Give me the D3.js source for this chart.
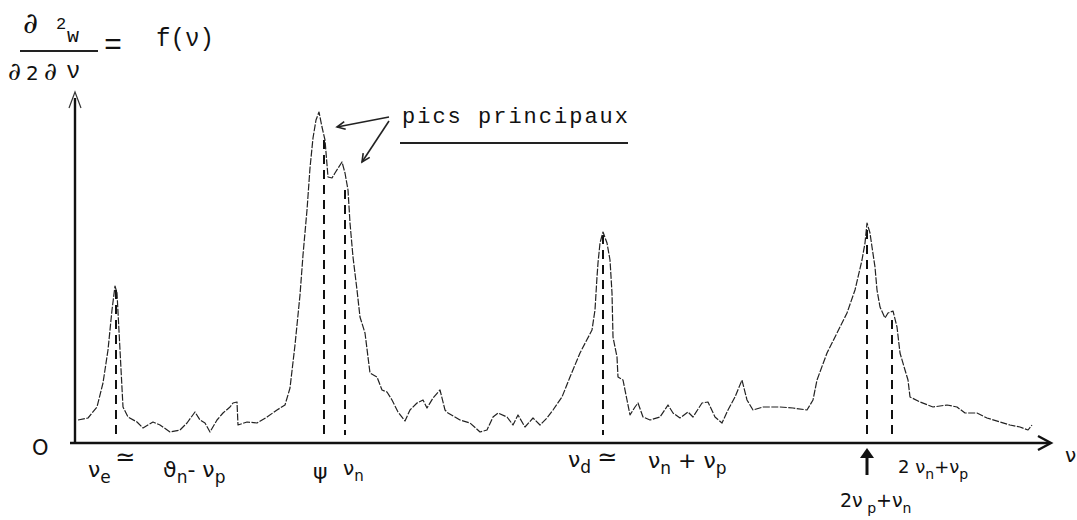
<!DOCTYPE html>
<html>
<head>
<meta charset="utf-8">
<script src="https://cdn.jsdelivr.net/npm/d3@7"></script>
<style>
  html, body { margin: 0; padding: 0; background: #fff; }
  svg { display: block; }
  text { white-space: pre; }
</style>
</head>
<body>
<svg id="chart" width="1077" height="520"></svg>
<script>
// ---- data (frequency channel ν, intensity ∂²w/∂z∂ν, arbitrary units) ----
const nu = [3,13,22,28,33,37,40,42,45,48,53,62,68,78,85,95,105,112,120,125,130,135,142,148,155,158,162,163,172,182,192,202,210,
  215,220,225,228,232,235,238,241,244,247,250,253,257,260,267,270,273,275,278,282,285,290,293,295,302,307,312,317,323,330,
  335,342,348,352,358,365,370,373,385,395,405,412,418,423,432,438,443,450,458,465,472,478,487,495,505,517,520,522,523,525,
  528,532,535,537,538,542,543,548,552,555,560,563,568,575,585,593,598,605,613,618,627,633,640,647,653,660,667,672,678,688,
  698,705,718,732,738,742,752,762,772,780,787,790,792,795,797,800,802,805,810,813,818,822,825,830,833,835,845,858,872,882,
  890,902,912,925,935,945,953,957];
const intensity = [23,25,36,60,93,133,157,150,93,36,26,21,15,21,18,11,13,20,31,23,20,11,23,30,36,40,41,18,21,20,26,33,38,
  55,98,148,188,233,275,305,323,331,316,303,266,265,270,281,270,253,220,186,153,126,110,86,70,66,53,51,43,31,22,
  33,40,43,35,45,53,33,30,23,20,11,13,26,30,26,18,28,16,25,18,25,33,46,66,90,113,133,166,180,200,
  211,200,183,150,106,86,66,63,43,28,36,40,26,23,26,38,30,25,31,26,40,41,26,20,33,46,63,43,33,36,
  36,36,35,33,43,63,90,110,130,153,183,200,220,210,196,176,153,136,125,130,132,116,90,73,63,46,41,36,38,36,
  30,30,25,21,18,16,13,18];

// dashed reference lines under the peaks
const markerNu  = [41, 249, 270, 528, 792, 817];
const markerTop = [153, 303, 253, 208, 213, 123];

// tick labels under the axis
const tickLabels = [
  { nu: 13,  base: 477, size: 22, parts: [{t:"ν"},{t:"e",sub:true}] },
  { nu: 88,  base: 477, size: 22, parts: [{t:"ϑ"},{t:"n",sub:true},{t:"-"},{t:" ν"},{t:"p",sub:true}] },
  { nu: 238, base: 479, size: 22, parts: [{t:"ψ"}] },
  { nu: 268, base: 475, size: 20, parts: [{t:"ν"},{t:"n",sub:true}] },
  { nu: 493, base: 467, size: 22, parts: [{t:"ν"},{t:"d",sub:true}] },
  { nu: 573, base: 468, size: 22, parts: [{t:"ν"},{t:"n",sub:true},{t:" + "},{t:"ν"},{t:"p",sub:true}] },
  { nu: 823, base: 473, size: 18, parts: [{t:"2 "},{t:"ν"},{t:"n",sub:true},{t:"+"},{t:"ν"},{t:"p",sub:true}] },
  { nu: 765, base: 507, size: 19, parts: [{t:"2"},{t:"ν"},{t:" p",sub:true},{t:"+"},{t:"ν"},{t:"n",sub:true}] }
];
const approxMarkNu = [50, 532];          // "≃" marks under ν_e and ν_d
const arrowMarkNu = 792;                 // up arrow under 2νp+νn
const calloutText = "pics principaux";
const calloutTips = [{nu: 262, v: 316}, {nu: 287, v: 281}];

// ---- scales ----
const svg = d3.select("#chart");
const x = d3.scaleLinear().domain([0, 975]).range([75, 1050]);
const y = d3.scaleLinear().domain([0, 345]).range([443, 98]);
const ink = "#111";

// ---- axes ----
svg.append("line").attr("x1", x(-5)).attr("x2", x(975)).attr("y1", y(0)).attr("y2", y(0))
  .attr("stroke", ink).attr("stroke-width", 2.4);
svg.append("path").attr("d", `M${x(963)},${y(0)-7} L${x(976)},${y(0)} L${x(963)},${y(0)+7}`)
  .attr("fill", "none").attr("stroke", ink).attr("stroke-width", 2.4);
svg.append("line").attr("x1", x(0)).attr("x2", x(0)).attr("y1", y(0)).attr("y2", y(345))
  .attr("stroke", ink).attr("stroke-width", 2.4);
svg.append("path").attr("d", `M${x(0)-6},${y(335)} L${x(0)},${y(351)} L${x(0)+6},${y(335)}`)
  .attr("fill", "none").attr("stroke", "#333").attr("stroke-width", 1.2);
svg.append("text").attr("x", x(0) - 43).attr("y", y(0) + 12)
  .attr("font-family", "DejaVu Sans").attr("font-size", 21).attr("fill", ink).text("O");

// ---- dashed markers ----
svg.selectAll("line.marker").data(markerNu).join("line").attr("class", "marker")
  .attr("x1", d => x(d)).attr("x2", d => x(d))
  .attr("y1", (d, i) => y(markerTop[i])).attr("y2", y(8))
  .attr("stroke", ink).attr("stroke-width", 2).attr("stroke-dasharray", "9,6");

// ---- curve ----
const pts = nu.map((d, i) => [d, intensity[i]]);
svg.append("path").datum(pts)
  .attr("d", d3.line().x(d => x(d[0])).y(d => y(d[1])))
  .attr("fill", "none").attr("stroke", "#222").attr("stroke-width", 1.2)
  .attr("stroke-dasharray", "7,1.5").attr("stroke-linejoin", "round");

// ---- tick labels ----
tickLabels.forEach(lab => {
  const t = svg.append("text").attr("x", x(lab.nu)).attr("y", lab.base)
    .attr("font-family", "DejaVu Sans").attr("fill", ink).attr("font-size", lab.size);
  let cur = 0;
  lab.parts.forEach(p => {
    const target = p.sub ? 6 : 0;
    t.append("tspan").attr("dy", target - cur)
      .attr("font-size", p.sub ? Math.round(lab.size * 0.75) : lab.size).text(p.t);
    cur = target;
  });
});
approxMarkNu.forEach(n => {
  svg.append("text").attr("x", x(n)).attr("y", y(0) + 22).attr("text-anchor", "middle")
    .attr("font-family", "DejaVu Sans").attr("font-size", 24).attr("fill", ink).text("≃");
});
// up arrow
svg.append("line").attr("x1", x(arrowMarkNu)).attr("x2", x(arrowMarkNu))
  .attr("y1", y(0) + 32).attr("y2", y(0) + 12).attr("stroke", ink).attr("stroke-width", 3);
svg.append("path")
  .attr("d", `M${x(arrowMarkNu)-7},${y(0)+15} L${x(arrowMarkNu)},${y(0)+5} L${x(arrowMarkNu)+7},${y(0)+15} Z`)
  .attr("fill", ink);
// far right axis name (cut by the page edge)
svg.append("text").attr("x", x(990)).attr("y", y(0) + 19)
  .attr("font-family", "DejaVu Sans").attr("font-size", 20).attr("fill", ink).text("ν");

// ---- formula title ----
const mono = "Liberation Mono";
const title = svg.append("g").attr("fill", ink);
title.append("text").attr("x", 23).attr("y", 33).attr("font-family", "DejaVu Serif").attr("font-style", "italic")
  .attr("font-size", 29).text("∂");
title.append("text").attr("x", 56).attr("y", 29).attr("font-family", mono).attr("font-size", 17).text("2");
title.append("text").attr("x", 67).attr("y", 42).attr("font-family", mono).attr("font-size", 20).text("w");
title.append("line").attr("x1", 20).attr("x2", 98).attr("y1", 51).attr("y2", 51)
  .attr("stroke", "#222").attr("stroke-width", 2);
title.append("text").attr("x", 8).attr("y", 80).attr("font-family", "DejaVu Serif").attr("font-style", "italic")
  .attr("font-size", 25).text("∂");
title.append("text").attr("x", 26).attr("y", 80).attr("font-family", "DejaVu Sans").attr("font-size", 20).text("2");
title.append("text").attr("x", 44).attr("y", 80).attr("font-family", "DejaVu Serif").attr("font-style", "italic")
  .attr("font-size", 25).text("∂");
title.append("text").attr("x", 66).attr("y", 78).attr("font-family", mono).attr("font-size", 24).text("ν");
title.append("text").attr("x", 104).attr("y", 54).attr("font-family", mono).attr("font-size", 30).text("=");
title.append("text").attr("x", 156).attr("y", 46).attr("font-family", mono).attr("font-size", 26)
  .attr("textLength", 58).attr("lengthAdjust", "spacingAndGlyphs").text("f(ν)");

// ---- callout "pics principaux" ----
svg.append("text").attr("x", 402).attr("y", 123).attr("font-family", mono).attr("font-size", 22)
  .attr("textLength", 226).attr("lengthAdjust", "spacing").attr("fill", ink).text(calloutText);
svg.append("line").attr("x1", 400).attr("x2", 628).attr("y1", 143).attr("y2", 143)
  .attr("stroke", "#222").attr("stroke-width", 2);
const start = [389, 117];
calloutTips.forEach((tp, i) => {
  const tx = x(tp.nu), ty = y(tp.v);
  const sx = start[0], sy = start[1] + i * 4;
  svg.append("line").attr("x1", sx).attr("y1", sy).attr("x2", tx).attr("y2", ty)
    .attr("stroke", "#222").attr("stroke-width", 1.6);
  const ang = Math.atan2(ty - sy, tx - sx);
  const L = 9, spread = 0.45;
  const p1 = [tx - L * Math.cos(ang - spread), ty - L * Math.sin(ang - spread)];
  const p2 = [tx - L * Math.cos(ang + spread), ty - L * Math.sin(ang + spread)];
  svg.append("path").attr("d", `M${p1[0]},${p1[1]} L${tx},${ty} L${p2[0]},${p2[1]}`)
    .attr("fill", "none").attr("stroke", "#222").attr("stroke-width", 1.6);
});
</script>
</body>
</html>
